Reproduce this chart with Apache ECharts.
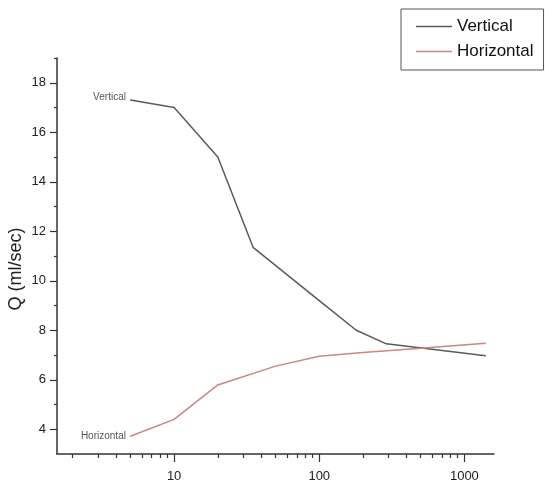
<!DOCTYPE html>
<html>
<head>
<meta charset="utf-8">
<title>Q vs x</title>
<script src="https://cdn.jsdelivr.net/npm/echarts@6/dist/echarts.min.js"></script>
<style>
  html, body { margin: 0; padding: 0; background: #fff; }
  #main { width: 545px; height: 488px; }
</style>
</head>
<body>
<div id="main"></div>
<script>
// 数据
var seriesNames = ['Vertical', 'Horizontal'];
var verticalX = [5, 10, 20, 35, 100, 180, 290, 1400];
var verticalY = [17.3, 17.0, 15.0, 11.35, 9.2, 8.0, 7.45, 6.97];
var horizontalX = [5, 10, 20, 50, 100, 200, 500, 1400];
var horizontalY = [3.72, 4.4, 5.79, 6.55, 6.95, 7.1, 7.27, 7.47];
// 刻度
var xMajorTicks = [10, 100, 1000];
var xMinorTicks = [2, 3, 4, 5, 6, 7, 8, 9, 20, 30, 40, 50, 60, 70, 80, 90, 200, 300, 400, 500, 600, 700, 800, 900];
var yMajorTicks = [4, 6, 8, 10, 12, 14, 16, 18];
var yMinorTicks = [5, 7, 9, 11, 13, 15, 17, 19];

var font = 'Liberation Sans, Arial, sans-serif';

/*
 * 拼点，起点带曲线名称
 * */
function makeData(xs, ys, name, offsetY){
    var arr = [];
    for (var i = 0; i < xs.length; i++) {
        var item = { value: [xs[i], ys[i]] };
        if (i === 0) {
            item.label = {
                show: true,
                position: 'left',
                distance: 4,
                offset: [0, offsetY],
                formatter: name,
                fontFamily: font,
                fontSize: 10,
                color: '#555'
            };
        }
        arr.push(item);
    }
    return arr;
}

function lineSeries(name, xs, ys, color, offsetY){
    return {
        name: name,
        type: 'line',
        xAxisIndex: 0,
        yAxisIndex: 0,
        symbol: 'circle',
        symbolSize: 1,
        showAllSymbol: true,
        itemStyle: { color: color },
        lineStyle: { color: color, width: 1.5 },
        label: { show: false },
        animation: false,
        data: makeData(xs, ys, name, offsetY)
    };
}

var xMin = 1.56, xMax = 1600;
var axisColor = '#333';

var chart = echarts.init(document.getElementById('main'));
var option = {
    backgroundColor: '#fff',
    animation: false,
    grid: { left: 57, right: 51, top: 58, bottom: 34, containLabel: false, outerBoundsMode: 'none' },
    legend: {
        orient: 'vertical',
        left: 401,
        top: 9,
        padding: [9, 10, 10, 15],
        itemGap: 8,
        itemWidth: 36,
        itemHeight: 1.5,
        icon: 'rect',
        borderColor: '#555',
        borderWidth: 1,
        textStyle: { fontFamily: font, fontSize: 17, color: '#111' },
        data: seriesNames
    },
    xAxis: [
        {
            type: 'log',
            min: xMin,
            max: xMax,
            axisLine: { lineStyle: { color: axisColor, width: 1.5 } },
            axisTick: { customValues: xMajorTicks, length: 8, lineStyle: { color: axisColor, width: 1.2 } },
            axisLabel: {
                customValues: xMajorTicks,
                margin: 16,
                fontFamily: font,
                fontSize: 13,
                color: '#222',
                formatter: function(v){ return String(Math.round(v)); }
            },
            splitLine: { show: false },
            minorTick: { show: false }
        },
        {
            type: 'log',
            position: 'bottom',
            min: xMin,
            max: xMax,
            axisLine: { show: false },
            axisTick: { customValues: xMinorTicks, length: 4, lineStyle: { color: axisColor, width: 1.2 } },
            axisLabel: { show: false },
            splitLine: { show: false }
        }
    ],
    yAxis: [
        {
            type: 'value',
            min: 3,
            max: 19,
            name: 'Q (ml/sec)',
            nameLocation: 'middle',
            nameGap: 32,
            nameMoveOverlap: false,
            nameTextStyle: { fontFamily: font, fontSize: 18, color: '#222', padding: [0, 26, 0, 0] },
            axisLine: { show: true, lineStyle: { color: axisColor, width: 1.5 } },
            axisTick: { show: true, customValues: yMajorTicks, length: 7, lineStyle: { color: axisColor, width: 1.2 } },
            axisLabel: { customValues: yMajorTicks, margin: 11, fontFamily: font, fontSize: 13, color: '#222' },
            splitLine: { show: false }
        },
        {
            type: 'value',
            position: 'left',
            min: 3,
            max: 19,
            axisLine: { show: false },
            axisTick: { show: true, customValues: yMinorTicks, length: 3, lineStyle: { color: axisColor, width: 1.2 } },
            axisLabel: { show: false },
            splitLine: { show: false }
        }
    ],
    series: [
        lineSeries(seriesNames[0], verticalX, verticalY, '#5a5a5a', -3),
        lineSeries(seriesNames[1], horizontalX, horizontalY, '#cc8484', 0)
    ]
};
chart.setOption(option);
</script>
</body>
</html>
